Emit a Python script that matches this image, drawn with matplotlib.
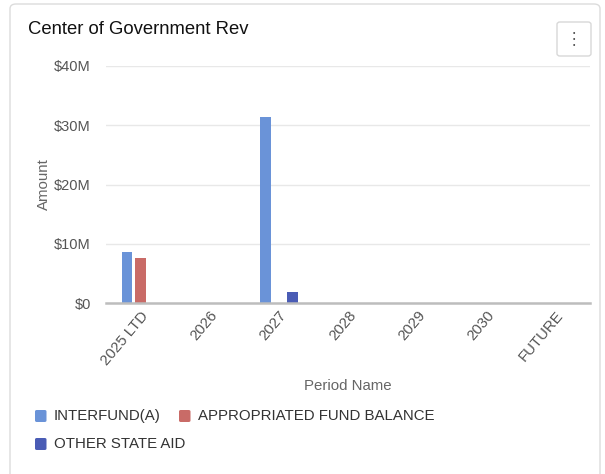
import numpy as np
import matplotlib
matplotlib.use("Agg")
import matplotlib.pyplot as plt
from matplotlib.patches import FancyBboxPatch
from matplotlib.ticker import FuncFormatter

plt.rcParams['font.family'] = ['Liberation Sans', 'DejaVu Sans']

periods = ['2025 LTD', '2026', '2027', '2028', '2029', '2030', 'FUTURE']
series = ['INTERFUND(A)', 'APPROPRIATED FUND BALANCE', 'OTHER STATE AID']
interfund = [8.6e6, 0, 31.4e6, 0, 0, 0, 0]
approp_fund = [7.6e6, 0, 0, 0, 0, 0, 0]
other_state_aid = [0, 0, 1.9e6, 0, 0, 0, 0]
colors = ['#6a93d8', '#c96b67', '#4a5cb5']

W, H = 605, 474
fig = plt.figure(figsize=(W / 100, H / 100), dpi=100)

def fx(px):
    return px / W

def fy(py):
    return 1 - py / H

# card frame
fig.patches.append(FancyBboxPatch((fx(10), fy(520)), fx(590), 516 / H,
                                  boxstyle="round,pad=0,rounding_size=0.01",
                                  transform=fig.transFigure, fc='white',
                                  ec='#dcdcdc', lw=1, zorder=-10))
# menu button
fig.patches.append(FancyBboxPatch((fx(557), fy(56)), fx(34), 34 / H,
                                  boxstyle="round,pad=0,rounding_size=0.005",
                                  transform=fig.transFigure, fc='white',
                                  ec='#d8d8d8', lw=1, zorder=1))
for dy in (-6, 0, 6):
    fig.text(fx(574), fy(39 + dy), '\u2022', ha='center', va='center',
             fontsize=5, color='#444444')

fig.text(fx(28), fy(30), 'Center of Government Rev', fontsize=13.3,
         color='#111111', va='center', ha='left')

ax = fig.add_axes([fx(106), fy(303), fx(590) - fx(106), (303 - 66) / H])
ax.patch.set_alpha(0)
x = np.arange(len(periods))
step = 0.195
bw = 0.152
for i, (vals, c) in enumerate(zip([interfund, approp_fund, other_state_aid], colors)):
    ax.bar(x + (i - 1) * step, vals, width=bw, color=c, zorder=3)

ax.set_xlim(-0.5, len(periods) - 0.5)
ax.set_ylim(0, 40e6)
ax.set_yticks([0, 10e6, 20e6, 30e6, 40e6])
ax.yaxis.set_major_formatter(FuncFormatter(
    lambda v, p: '$0' if v == 0 else f'${v / 1e6:.0f}M'))
ax.grid(axis='y', color='#e8e8e8', lw=1, zorder=0)
for s in ['top', 'right', 'left']:
    ax.spines[s].set_visible(False)
ax.spines['bottom'].set_color('#bdbdbd')
ax.spines['bottom'].set_linewidth(1.8)
ax.spines['bottom'].set_zorder(4)
ax.tick_params(axis='y', length=0, pad=11, labelsize=10.5, labelcolor='#555555')
ax.tick_params(axis='x', length=0, pad=4, labelsize=10.8, labelcolor='#555555')
ax.set_xticks(x)
ax.set_xticklabels(periods, rotation=50, ha='right', rotation_mode='anchor')
ax.set_ylabel('Amount', fontsize=10.8, color='#666666')
ax.yaxis.set_label_coords(-0.113, 0.5)
ax.set_xlabel('Period Name', fontsize=10.8, color='#666666', labelpad=8)

# legend rows
legend_items = [(series[0], colors[0], 35, 416),
                (series[1], colors[1], 179, 416),
                (series[2], colors[2], 35, 444)]
for label, c, px, py in legend_items:
    fig.patches.append(FancyBboxPatch((fx(px), fy(py + 6)), fx(11.5), 12 / H,
                                      boxstyle="round,pad=0,rounding_size=0.003",
                                      transform=fig.transFigure, fc=c, ec='none'))
    fig.text(fx(px + 19), fy(py), label, fontsize=10.8, color='#333333',
             va='center', ha='left')

fig.savefig('out.png', dpi=100)
